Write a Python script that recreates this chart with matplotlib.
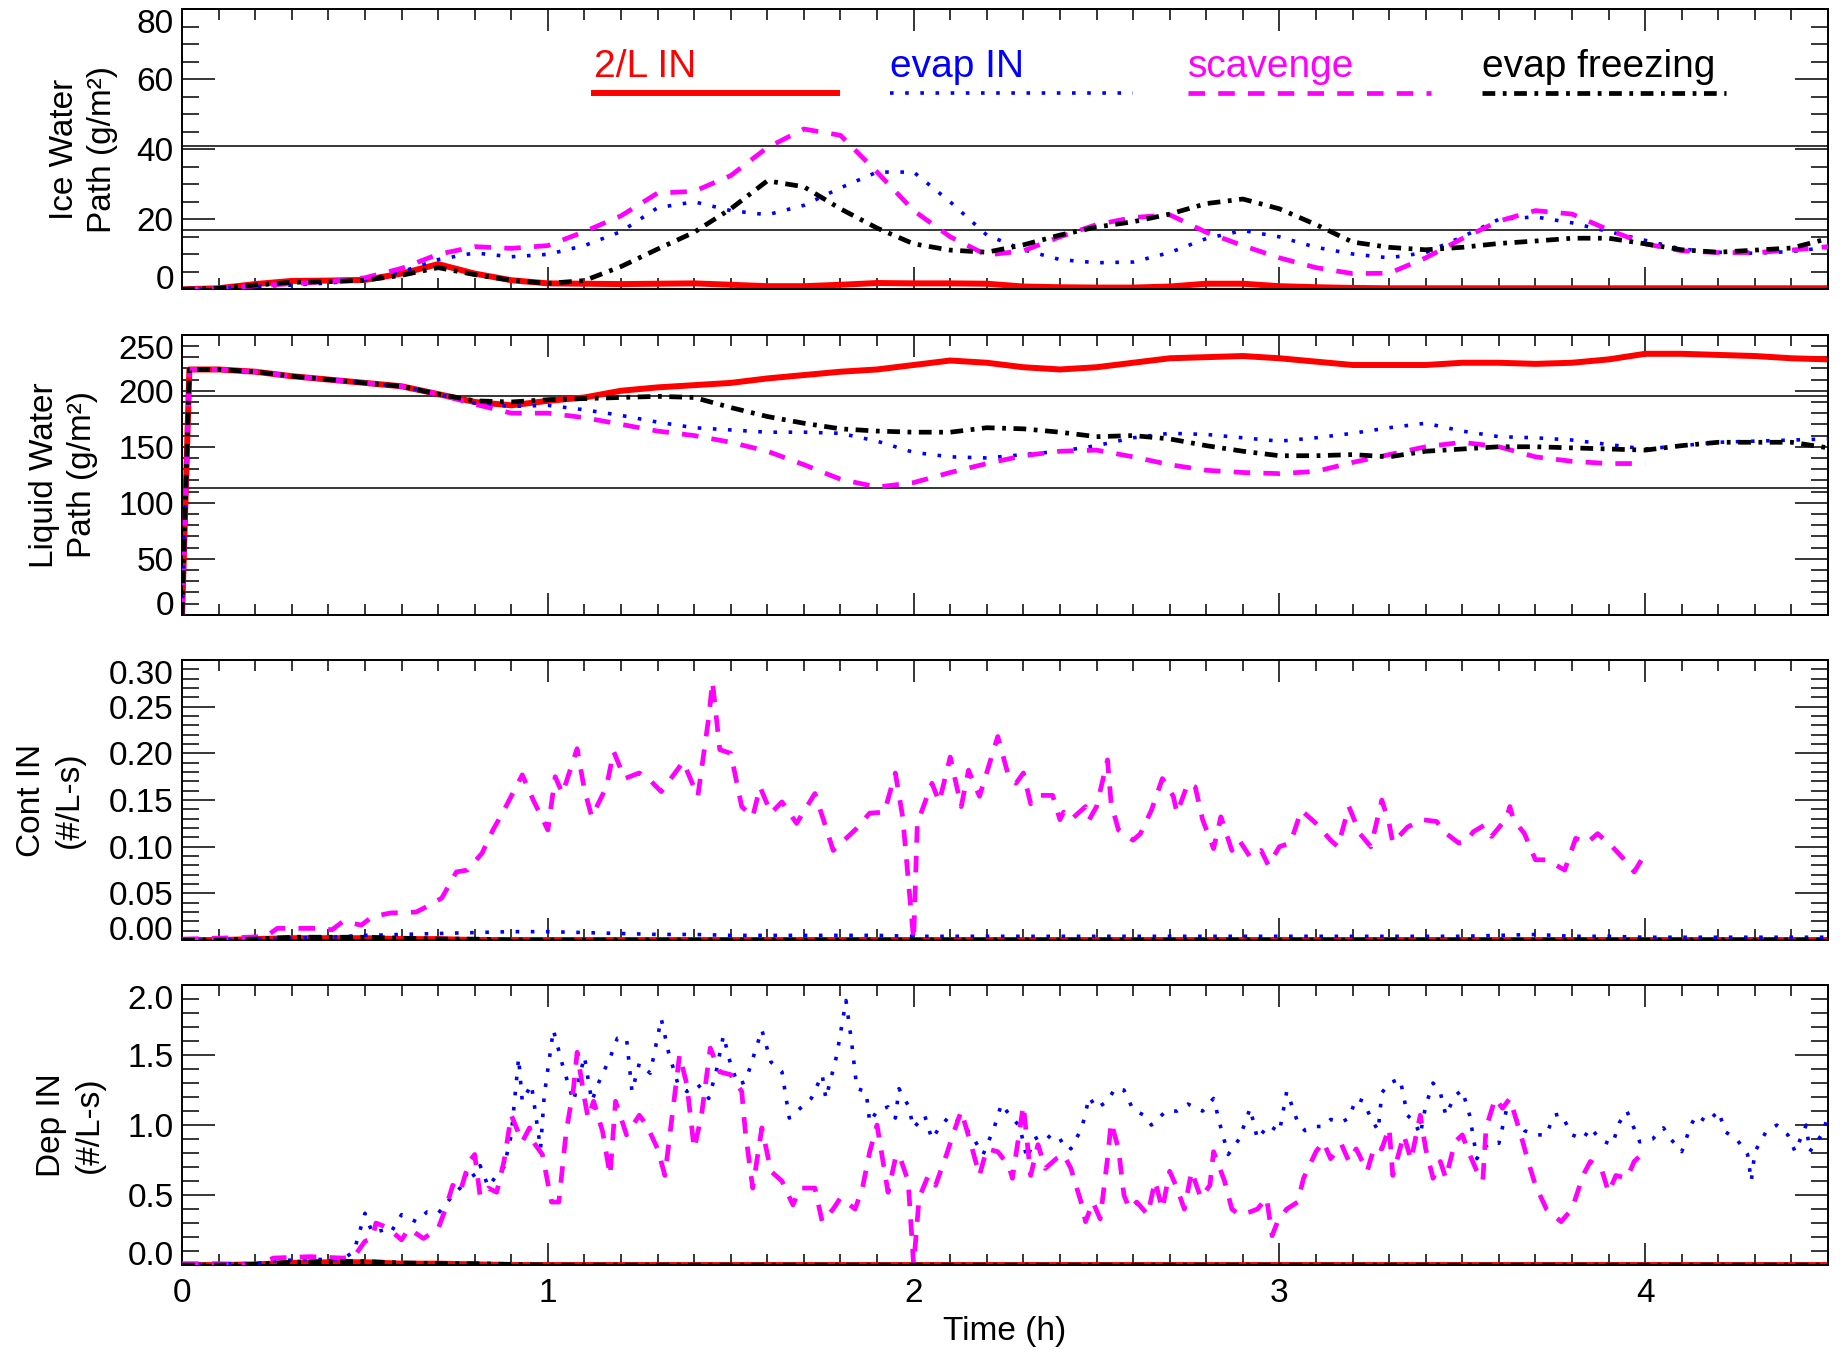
# Bibliotecas utilizadas

import matplotlib.pyplot as plt
import numpy as np
from matplotlib.ticker import MultipleLocator

plt.rcParams['font.family'] = ['Liberation Sans', 'DejaVu Sans']

# Tempo (h) das series suaves, de 0.1 em 0.1 h
tempo = np.round(np.arange(0, 4.51, 0.1), 2)

nomes = ["2/L IN", "evap IN", "scavenge", "evap freezing"]

# Ice Water Path (g/m2)
iwp_2l = [0.0, 0.3, 1.5, 2.4, 2.5, 2.7, 4.5, 7.2, 4.5, 2.6,
          1.7, 1.6, 1.5, 1.6, 1.7, 1.3, 0.9, 0.9, 1.3, 1.8,
          1.7, 1.7, 1.6, 0.8, 0.6, 0.5, 0.5, 0.8, 1.6, 1.6,
          0.9, 0.6, 0.4, 0.3, 0.3, 0.3, 0.3, 0.3, 0.3, 0.3,
          0.3, 0.3, 0.3, 0.3, 0.3, 0.3]
iwp_evap = [0.0, 0.2, 0.8, 1.2, 1.8, 2.7, 5.0, 8.5, 10.4, 9.3,
            10.0, 12.5, 16.5, 23.3, 25.0, 22.5, 21.3, 24.0, 29.0, 33.5,
            33.5, 25.0, 15.5, 11.3, 8.5, 7.6, 7.8, 10.5, 14.5, 16.8,
            15.0, 12.0, 10.1, 9.0, 10.5, 15.0, 20.0, 20.7, 19.0, 16.5,
            14.0, 11.5, 10.6, 10.3, 10.8, 12.0]
iwp_scav = [0.0, 0.3, 1.0, 1.6, 2.2, 3.3, 6.0, 10.0, 12.2, 11.7,
            12.5, 16.5, 21.0, 27.5, 28.0, 32.5, 40.5, 45.8, 44.0, 33.5,
            22.5, 15.0, 9.8, 11.0, 15.0, 18.5, 20.5, 21.3, 16.3, 12.5,
            9.0, 6.2, 4.5, 4.6, 9.0, 14.5, 19.5, 22.5, 21.5, 17.0,
            13.0, 11.0, 10.5, 10.5, 11.2, 12.2]
iwp_frz = [0.0, 0.3, 1.2, 2.0, 2.2, 2.6, 4.0, 6.2, 4.2, 2.6,
           1.7, 2.5, 6.5, 11.5, 16.3, 23.0, 31.0, 29.3, 23.0, 17.5,
           13.0, 11.2, 10.6, 12.7, 15.5, 17.8, 19.3, 21.5, 24.5, 25.8,
           23.0, 18.5, 13.5, 12.0, 11.3, 12.0, 13.1, 13.8, 14.6, 14.6,
           13.0, 11.3, 10.6, 11.2, 11.8, 14.5]

# Liquid Water Path (g/m2): comeca em zero e salta logo no inicio
tempo_lwp = np.concatenate(([0.0, 0.02], tempo[1:]))
lwp_2l = [0, 219,
          219, 217, 213, 210, 207, 204, 197, 190, 187,
          191, 194, 200, 203, 205, 207, 211, 214, 217, 219,
          223, 227, 225, 221, 219, 221, 225, 229, 230, 231,
          229, 226, 223, 223, 223, 225, 225, 224, 225, 228,
          233, 233, 232, 231, 229, 228]
lwp_evap = [0, 219,
            219, 217, 213, 210, 207, 204, 197, 189, 186,
            187, 183, 178, 172, 167, 165, 163, 163, 162, 155,
            145, 141, 140, 143, 146, 151, 158, 162, 161, 158,
            155, 158, 162, 167, 171, 164, 159, 158, 156, 152,
            148, 151, 154, 155, 156, 157]
lwp_scav = [0, 219,
            219, 217, 213, 210, 207, 204, 197, 188, 180,
            180, 176, 170, 164, 160, 154, 146, 134, 121, 114,
            118, 127, 135, 142, 146, 147, 141, 134, 129, 127,
            126, 128, 136, 143, 150, 154, 150, 141, 137, 135,
            135]
lwp_frz = [0, 219,
           219, 217, 213, 210, 207, 204, 197, 191, 190,
           192, 193, 194, 195, 194, 185, 177, 171, 166, 164,
           163, 163, 167, 166, 163, 159, 160, 157, 151, 146,
           142, 142, 143, 141, 146, 148, 150, 150, 149, 148,
           147, 151, 154, 154, 154, 149]

# Cont IN (#/L-s): series quase nulas na grade de 0.1 h
cont_2l = [0.0, 0.0, 0.001, 0.002, 0.002, 0.002, 0.001, 0.001, 0.0, 0.0,
           0.0, 0.0, 0.0, 0.0, 0.0, 0.0, 0.0, 0.0, 0.0, 0.0,
           0.0, 0.0, 0.0, 0.0, 0.0, 0.0, 0.0, 0.0, 0.0, 0.0,
           0.0, 0.0, 0.0, 0.0, 0.0, 0.0, 0.0, 0.0, 0.0, 0.0,
           0.0, 0.0, 0.0, 0.0, 0.0, 0.0]
cont_evap = [0.0, 0.0, 0.001, 0.002, 0.003, 0.005, 0.006, 0.007, 0.008, 0.009,
             0.009, 0.008, 0.007, 0.006, 0.006, 0.005, 0.005, 0.005, 0.005, 0.005,
             0.004, 0.004, 0.004, 0.004, 0.004, 0.004, 0.004, 0.004, 0.004, 0.004,
             0.004, 0.004, 0.004, 0.004, 0.004, 0.004, 0.005, 0.006, 0.004, 0.004,
             0.003, 0.003, 0.003, 0.003, 0.003, 0.003]
cont_frz = [0.0, 0.0, 0.001, 0.003, 0.003, 0.003, 0.002, 0.001, 0.001, 0.0,
            0.0, 0.0, 0.0, 0.0, 0.0, 0.0, 0.0, 0.0, 0.0, 0.0,
            0.0, 0.0, 0.0, 0.0, 0.0, 0.0, 0.0, 0.0, 0.0, 0.0,
            0.0, 0.0, 0.0, 0.0, 0.0, 0.0, 0.0, 0.0, 0.0, 0.0,
            0.0, 0.0, 0.0, 0.0, 0.0, 0.0]

# Cont IN do scavenge: pares (tempo, valor)
cont_scav = np.array([
    (0.00, 0.001), (0.10, 0.002), (0.18, 0.003), (0.23, 0.004), (0.26, 0.0125), (0.37, 0.0125),
    (0.41, 0.011), (0.44, 0.020), (0.49, 0.016), (0.52, 0.025), (0.57, 0.029), (0.64, 0.030),
    (0.66, 0.034), (0.71, 0.045), (0.75, 0.073), (0.78, 0.075), (0.82, 0.093), (0.85, 0.118),
    (0.88, 0.139), (0.93, 0.177), (0.96, 0.150), (1.00, 0.118), (1.02, 0.175), (1.04, 0.157),
    (1.08, 0.205), (1.10, 0.161), (1.12, 0.132), (1.16, 0.164), (1.18, 0.202), (1.21, 0.173),
    (1.25, 0.179), (1.28, 0.171), (1.31, 0.159), (1.37, 0.191), (1.41, 0.154), (1.44, 0.239),
    (1.45, 0.277), (1.47, 0.204), (1.50, 0.200), (1.53, 0.143), (1.56, 0.132), (1.58, 0.164),
    (1.61, 0.136), (1.64, 0.148), (1.68, 0.125), (1.73, 0.157), (1.76, 0.121), (1.78, 0.096),
    (1.84, 0.118), (1.88, 0.136), (1.92, 0.137), (1.95, 0.179), (1.97, 0.132), (2.00, 0.000),
    (2.01, 0.125), (2.05, 0.168), (2.07, 0.148), (2.10, 0.196), (2.13, 0.143), (2.15, 0.182),
    (2.18, 0.154), (2.23, 0.218), (2.26, 0.175), (2.28, 0.168), (2.30, 0.179), (2.32, 0.146),
    (2.34, 0.155), (2.38, 0.155), (2.40, 0.129), (2.41, 0.137), (2.43, 0.129), (2.47, 0.143),
    (2.48, 0.129), (2.50, 0.143), (2.53, 0.193), (2.54, 0.146), (2.56, 0.118), (2.60, 0.107),
    (2.62, 0.114), (2.65, 0.139), (2.68, 0.173), (2.71, 0.154), (2.72, 0.136), (2.75, 0.168),
    (2.77, 0.164), (2.79, 0.129), (2.82, 0.098), (2.84, 0.132), (2.87, 0.096), (2.89, 0.107),
    (2.92, 0.089), (2.95, 0.096), (2.97, 0.080), (3.00, 0.100), (3.03, 0.104), (3.06, 0.139),
    (3.10, 0.125), (3.14, 0.107), (3.16, 0.100), (3.19, 0.143), (3.22, 0.114), (3.25, 0.100),
    (3.28, 0.150), (3.30, 0.125), (3.31, 0.104), (3.35, 0.121), (3.39, 0.129), (3.43, 0.127),
    (3.45, 0.116), (3.49, 0.104), (3.51, 0.105), (3.53, 0.116), (3.56, 0.123), (3.58, 0.111),
    (3.62, 0.130), (3.63, 0.143), (3.64, 0.129), (3.67, 0.114), (3.70, 0.086), (3.73, 0.086),
    (3.78, 0.075), (3.81, 0.109), (3.84, 0.104), (3.87, 0.114), (3.91, 0.100), (3.94, 0.0875),
    (3.97, 0.073), (3.99, 0.086),
])

# Dep IN (#/L-s)
dep_2l = [0.0, 0.0, 0.005, 0.015, 0.02, 0.02, 0.01, 0.01, 0.005, 0.0,
          0.0, 0.0, 0.0, 0.0, 0.0, 0.0, 0.0, 0.0, 0.0, 0.0,
          0.0, 0.0, 0.0, 0.0, 0.0, 0.0, 0.0, 0.0, 0.0, 0.0,
          0.0, 0.0, 0.0, 0.0, 0.0, 0.0, 0.0, 0.0, 0.0, 0.0,
          0.0, 0.0, 0.0, 0.0, 0.0, 0.0]
dep_frz = [0.0, 0.0, 0.005, 0.02, 0.025, 0.025, 0.015, 0.01, 0.01, 0.005,
           0.0, 0.0, 0.0, 0.0, 0.0, 0.0, 0.0, 0.0, 0.0, 0.0,
           0.0, 0.0, 0.0, 0.0, 0.0, 0.0, 0.0, 0.0, 0.0, 0.0,
           0.0, 0.0, 0.0, 0.0, 0.0, 0.0, 0.0, 0.0, 0.0, 0.0,
           0.0, 0.0, 0.0, 0.0, 0.0, 0.0]

dep_evap = np.array([
    (0.00, 0.00), (0.10, 0.01), (0.20, 0.01), (0.25, 0.03), (0.35, 0.04), (0.44, 0.04), (0.47, 0.10),
    (0.50, 0.37), (0.52, 0.23), (0.55, 0.25), (0.57, 0.23), (0.60, 0.36), (0.64, 0.31), (0.67, 0.38),
    (0.70, 0.37), (0.72, 0.43), (0.74, 0.50), (0.76, 0.55), (0.785, 0.69), (0.80, 0.63), (0.815, 0.71),
    (0.837, 0.56), (0.86, 0.64), (0.88, 0.70), (0.90, 0.93), (0.92, 1.48), (0.93, 1.17), (0.955, 1.29),
    (0.98, 0.83), (0.99, 1.21), (1.015, 1.68), (1.04, 1.43), (1.07, 1.17), (1.10, 1.49), (1.12, 1.17),
    (1.14, 1.31), (1.17, 1.48), (1.19, 1.62), (1.215, 1.62), (1.23, 1.24), (1.25, 1.44), (1.28, 1.37),
    (1.31, 1.76), (1.33, 1.52), (1.356, 1.29), (1.38, 1.24), (1.41, 1.29), (1.44, 1.19), (1.46, 1.38),
    (1.48, 1.64), (1.50, 1.43), (1.52, 1.29), (1.54, 1.31), (1.555, 1.43), (1.585, 1.68), (1.61, 1.45),
    (1.64, 1.38), (1.66, 1.05), (1.69, 1.12), (1.72, 1.19), (1.75, 1.36), (1.76, 1.19), (1.79, 1.50),
    (1.815, 1.89), (1.83, 1.60), (1.845, 1.26), (1.87, 1.24), (1.88, 1.02), (1.90, 1.10), (1.93, 1.13),
    (1.95, 1.05), (1.96, 1.26), (1.985, 1.14), (2.00, 0.98), (2.03, 1.07), (2.05, 0.90), (2.07, 0.98),
    (2.10, 1.07), (2.13, 1.02), (2.16, 0.92), (2.19, 0.79), (2.22, 0.98), (2.24, 1.15), (2.26, 1.08),
    (2.29, 0.99), (2.31, 0.76), (2.33, 0.90), (2.36, 0.94), (2.39, 0.87), (2.41, 0.90), (2.43, 0.83),
    (2.46, 0.98), (2.48, 1.20), (2.50, 1.12), (2.53, 1.17), (2.55, 1.26), (2.575, 1.25), (2.60, 1.11),
    (2.63, 1.07), (2.65, 1.00), (2.69, 1.10), (2.72, 1.10), (2.75, 1.15), (2.79, 1.10), (2.82, 1.19),
    (2.84, 0.98), (2.86, 0.79), (2.89, 0.90), (2.92, 1.12), (2.94, 0.90), (2.97, 1.00), (3.00, 0.95),
    (3.02, 1.24), (3.03, 1.17), (3.05, 1.02), (3.07, 0.96), (3.10, 0.99), (3.12, 0.99), (3.14, 1.04),
    (3.17, 1.02), (3.19, 1.05), (3.21, 1.19), (3.23, 1.17), (3.25, 1.05), (3.27, 0.96), (3.28, 1.23),
    (3.30, 1.30), (3.33, 1.33), (3.35, 1.07), (3.37, 1.02), (3.385, 0.93), (3.40, 1.14), (3.42, 1.30),
    (3.44, 1.23), (3.455, 1.07), (3.48, 1.21), (3.50, 1.25), (3.52, 1.07), (3.54, 0.76), (3.556, 0.83),
    (3.58, 0.88), (3.60, 0.87), (3.62, 1.10), (3.64, 1.07), (3.67, 0.96), (3.70, 0.93), (3.73, 0.93),
    (3.75, 1.07), (3.77, 1.08), (3.80, 0.93), (3.83, 0.90), (3.85, 0.98), (3.88, 0.89), (3.91, 0.86),
    (3.93, 1.02), (3.95, 1.10), (3.985, 0.88), (4.02, 0.90), (4.05, 0.98), (4.07, 0.90), (4.10, 0.81),
    (4.125, 1.00), (4.14, 1.07), (4.17, 1.02), (4.20, 1.10), (4.22, 0.95), (4.25, 0.90), (4.28, 0.79),
    (4.29, 0.60), (4.30, 0.81), (4.33, 0.95), (4.36, 1.00), (4.39, 0.93), (4.41, 0.81), (4.44, 1.00),
    (4.45, 0.81), (4.485, 0.94), (4.50, 1.07),
])

dep_scav = np.array([
    (0.00, 0.01), (0.10, 0.01), (0.20, 0.00), (0.25, 0.05), (0.35, 0.06), (0.44, 0.05), (0.47, 0.06),
    (0.50, 0.17), (0.52, 0.19), (0.53, 0.30), (0.56, 0.27), (0.60, 0.18), (0.62, 0.26), (0.66, 0.19),
    (0.70, 0.26), (0.72, 0.40), (0.74, 0.57), (0.76, 0.52), (0.785, 0.74), (0.80, 0.79), (0.815, 0.49),
    (0.837, 0.55), (0.86, 0.52), (0.88, 0.74), (0.90, 1.07), (0.93, 0.88), (0.95, 0.98), (0.96, 0.88),
    (0.985, 0.79), (1.01, 0.45), (1.03, 0.45), (1.05, 0.95), (1.07, 1.26), (1.08, 1.52), (1.10, 1.19),
    (1.11, 1.05), (1.125, 1.17), (1.15, 0.95), (1.17, 0.64), (1.185, 1.17), (1.215, 0.93), (1.25, 1.07),
    (1.27, 1.00), (1.30, 0.83), (1.32, 0.64), (1.34, 1.07), (1.36, 1.50), (1.38, 1.29), (1.40, 0.83),
    (1.42, 1.07), (1.444, 1.55), (1.47, 1.38), (1.50, 1.36), (1.53, 1.24), (1.54, 0.95), (1.56, 0.55),
    (1.585, 0.98), (1.61, 0.67), (1.64, 0.60), (1.67, 0.43), (1.69, 0.55), (1.73, 0.55), (1.75, 0.31),
    (1.78, 0.40), (1.80, 0.48), (1.84, 0.40), (1.86, 0.55), (1.88, 0.81), (1.90, 1.00), (1.93, 0.52),
    (1.95, 0.76), (1.96, 0.79), (1.985, 0.60), (2.00, 0.00), (2.015, 0.48), (2.04, 0.64), (2.06, 0.57),
    (2.09, 0.79), (2.11, 0.95), (2.13, 1.10), (2.155, 0.88), (2.18, 0.64), (2.20, 0.83), (2.23, 0.81),
    (2.26, 0.71), (2.27, 0.62), (2.30, 1.14), (2.32, 0.64), (2.34, 0.86), (2.36, 0.69), (2.39, 0.76),
    (2.41, 0.79), (2.43, 0.69), (2.46, 0.43), (2.47, 0.31), (2.49, 0.45), (2.51, 0.33), (2.53, 0.76),
    (2.54, 1.02), (2.56, 0.83), (2.575, 0.50), (2.59, 0.40), (2.61, 0.45), (2.64, 0.36), (2.66, 0.60),
    (2.68, 0.40), (2.70, 0.67), (2.72, 0.55), (2.74, 0.40), (2.76, 0.67), (2.785, 0.48), (2.81, 0.57),
    (2.82, 0.81), (2.85, 0.60), (2.87, 0.40), (2.89, 0.36), (2.92, 0.38), (2.94, 0.40), (2.965, 0.48),
    (2.98, 0.21), (2.995, 0.31), (3.02, 0.40), (3.05, 0.45), (3.066, 0.62), (3.10, 0.81), (3.12, 0.88),
    (3.14, 0.76), (3.17, 0.86), (3.19, 0.74), (3.21, 0.83), (3.24, 0.67), (3.26, 0.85), (3.28, 0.83),
    (3.30, 0.98), (3.31, 0.64), (3.34, 0.93), (3.36, 0.75), (3.385, 1.07), (3.40, 0.83), (3.42, 0.62),
    (3.44, 0.74), (3.455, 0.62), (3.48, 0.88), (3.50, 0.93), (3.52, 0.79), (3.54, 0.67), (3.556, 0.60),
    (3.565, 0.98), (3.59, 1.19), (3.61, 1.12), (3.63, 1.19), (3.66, 0.93), (3.68, 0.74), (3.70, 0.57),
    (3.73, 0.40), (3.77, 0.31), (3.80, 0.40), (3.83, 0.64), (3.85, 0.74), (3.88, 0.69), (3.90, 0.52),
    (3.92, 0.64), (3.95, 0.62), (3.97, 0.74), (3.99, 0.79),
])

# Estilos de cada experimento (vermelho, azul, magenta, preto)
estilos = [
    dict(color='#ff0000', lw=4.3, ls='-', zorder=2),
    dict(color='#0000ff', lw=2.6, ls=(0, (1.0, 3.2)), zorder=3),
    dict(color='#ff00ff', lw=3.4, ls=(0, (3.5, 2.8)), zorder=4),
    dict(color='#000000', lw=3.4, ls=(0, (2.7, 1.6, 0.8, 1.6)), zorder=5),
]


def arruma_eixo(ax, ymax, passo, menor, fmt, ylabel, xlab):
	ax.set_xlim(0, 4.5)
	ax.set_ylim(0, ymax)
	ax.xaxis.set_major_locator(MultipleLocator(1))
	ax.xaxis.set_minor_locator(MultipleLocator(0.1))
	marcas = np.arange(0, ymax + passo / 2, passo)
	ax.set_yticks(marcas, [fmt % m for m in marcas])
	ax.yaxis.set_minor_locator(MultipleLocator(menor))
	ax.tick_params(which='both', direction='in', top=True, right=True, labelsize=24)
	ax.tick_params(axis='x', which='major', length=16, width=1.1, pad=9)
	ax.tick_params(axis='x', which='minor', length=8, width=1.1)
	ax.tick_params(axis='y', which='major', length=24, width=1.1, pad=6)
	ax.tick_params(axis='y', which='minor', length=12, width=1.1)
	# primeiro e ultimo rotulo ficam dentro da caixa
	rotulos = ax.get_yticklabels()
	rotulos[0].set_verticalalignment('baseline')
	rotulos[-1].set_verticalalignment('top')
	for s in ax.spines.values():
		s.set_linewidth(1.4)
	ax.set_ylabel(ylabel, fontsize=24, linespacing=1.3)
	ax.yaxis.set_label_coords(xlab, 0.5)


fig = plt.figure(figsize=(18.43, 13.52), dpi=100)
esq, larg, alt = 0.0988, 0.8931, 0.2071
ax1 = fig.add_axes([esq, 0.7860, larg, alt])
ax2 = fig.add_axes([esq, 0.5453, larg, alt])
ax3 = fig.add_axes([esq, 0.3047, larg, alt])
ax4 = fig.add_axes([esq, 0.0643, larg, alt])

# Painel 1 - IWP
for y, est in zip([iwp_2l, iwp_evap, iwp_scav, iwp_frz], estilos):
	ax1.plot(tempo, y, **est)
ax1.axhline(41, color='k', lw=1.1, zorder=1)
ax1.axhline(17, color='k', lw=1.1, zorder=1)
arruma_eixo(ax1, 80, 20, 5, '%d', "Ice Water\nPath (g/m²)", -0.039)

# Legenda escrita a mao: texto colorido acima de cada linha
inicio_leg = [0.250, 0.430, 0.611, 0.790]
for x0, nome, est in zip(inicio_leg, nomes, estilos):
	ax1.text(x0, 0.757, nome, color=est['color'], fontsize=28, transform=ax1.transAxes,
	         ha='left', va='baseline')
	ax1.plot([x0, x0 + 0.148], [0.70, 0.70], transform=ax1.transAxes, **est)

# Painel 2 - LWP
for y, est in zip([lwp_2l, lwp_evap, lwp_scav, lwp_frz], estilos):
	ax2.plot(tempo_lwp[:len(y)], y, **est)
ax2.axhline(195, color='k', lw=1.1, zorder=1)
ax2.axhline(113.5, color='k', lw=1.1, zorder=1)
arruma_eixo(ax2, 250, 50, 10, '%d', "Liquid Water\nPath (g/m²)", -0.051)

# Painel 3 - Cont IN
ax3.plot(tempo, cont_2l, **estilos[0])
ax3.plot(tempo, cont_evap, **estilos[1])
ax3.plot(cont_scav[:, 0], cont_scav[:, 1], **estilos[2])
ax3.plot(tempo, cont_frz, **estilos[3])
arruma_eixo(ax3, 0.30, 0.05, 0.01, '%.2f', "Cont IN\n(#/L-s)", -0.059)

# Painel 4 - Dep IN
ax4.plot(tempo, dep_2l, **estilos[0])
ax4.plot(dep_evap[:, 0], dep_evap[:, 1], **estilos[1])
ax4.plot(dep_scav[:, 0], dep_scav[:, 1], **estilos[2])
ax4.plot(tempo, dep_frz, **estilos[3])
arruma_eixo(ax4, 2.0, 0.5, 0.1, '%.1f', "Dep IN\n(#/L-s)", -0.047)

for ax in [ax1, ax2, ax3]:
	ax.tick_params(axis='x', labelbottom=False)
ax4.set_xticks([0, 1, 2, 3, 4], ['0', '1', '2', '3', '4'])
ax4.set_xlabel("Time (h)", fontsize=24, labelpad=5)

fig.savefig('out.png', dpi=100)
